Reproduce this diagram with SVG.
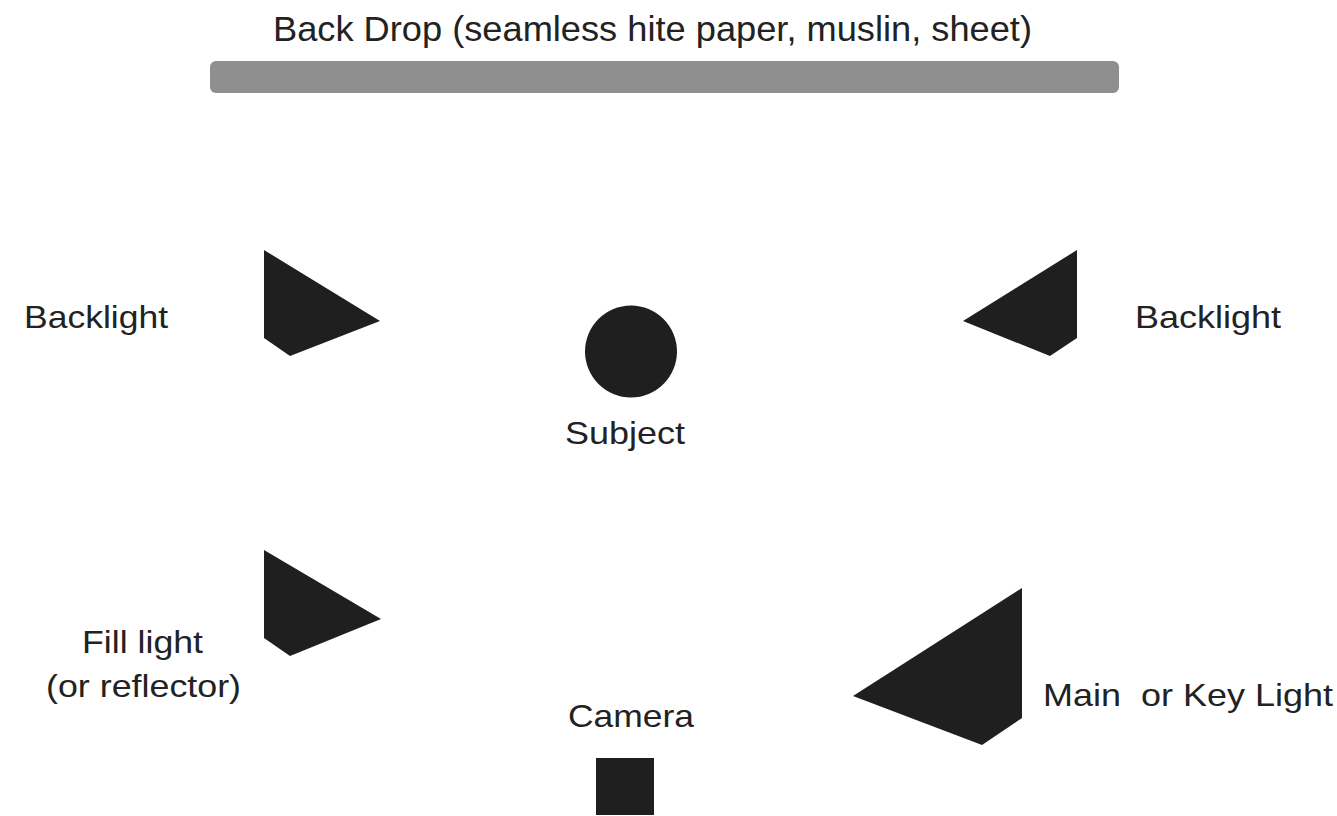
<svg xmlns="http://www.w3.org/2000/svg" width="1337" height="816" viewBox="0 0 1337 816">
  <style>
    .lbl { font-family: "Liberation Sans", Arial, sans-serif; font-size: 32px; fill: #222222; }
    .title { font-size: 35px; }
    .shape { fill: #1f1f1f; }
    .bar { fill: #8f8f8f; }
  </style>
  <rect width="1337" height="816" fill="#ffffff"/>
  <g id="backdrop">
    <rect class="bar" x="210" y="61" width="909" height="32" rx="6" ry="6"/>
    <text class="lbl title" x="273" y="41" textLength="759" lengthAdjust="spacingAndGlyphs">Back Drop (seamless hite paper, muslin, sheet)</text>
  </g>
  <g id="backlight-left">
    <polygon class="shape" points="264,250 380,321 290,356 264,338"/>
    <text class="lbl" x="24" y="328" textLength="144" lengthAdjust="spacingAndGlyphs">Backlight</text>
  </g>
  <g id="backlight-right">
    <polygon class="shape" points="1077,250 963,321 1050,356 1077,338"/>
    <text class="lbl" x="1135" y="328" textLength="146" lengthAdjust="spacingAndGlyphs">Backlight</text>
  </g>
  <g id="subject">
    <circle class="shape" cx="631" cy="351.5" r="46"/>
    <text class="lbl" x="565" y="444" textLength="120" lengthAdjust="spacingAndGlyphs">Subject</text>
  </g>
  <g id="fill-light">
    <polygon class="shape" points="264,550 381,619 290,656 264,638"/>
    <text class="lbl" x="82" y="653" textLength="121" lengthAdjust="spacingAndGlyphs">Fill light</text>
    <text class="lbl" x="46" y="697" textLength="195" lengthAdjust="spacingAndGlyphs">(or reflector)</text>
  </g>
  <g id="main-light">
    <polygon class="shape" points="1022,588 853,696 982,745 1022,718"/>
    <text class="lbl" x="1043" y="706" textLength="290" lengthAdjust="spacingAndGlyphs" xml:space="preserve">Main  or Key Light</text>
  </g>
  <g id="camera">
    <rect class="shape" x="596" y="758" width="58" height="57"/>
    <text class="lbl" x="568" y="727" textLength="126" lengthAdjust="spacingAndGlyphs">Camera</text>
  </g>
  <g id="connectors"/>
</svg>
